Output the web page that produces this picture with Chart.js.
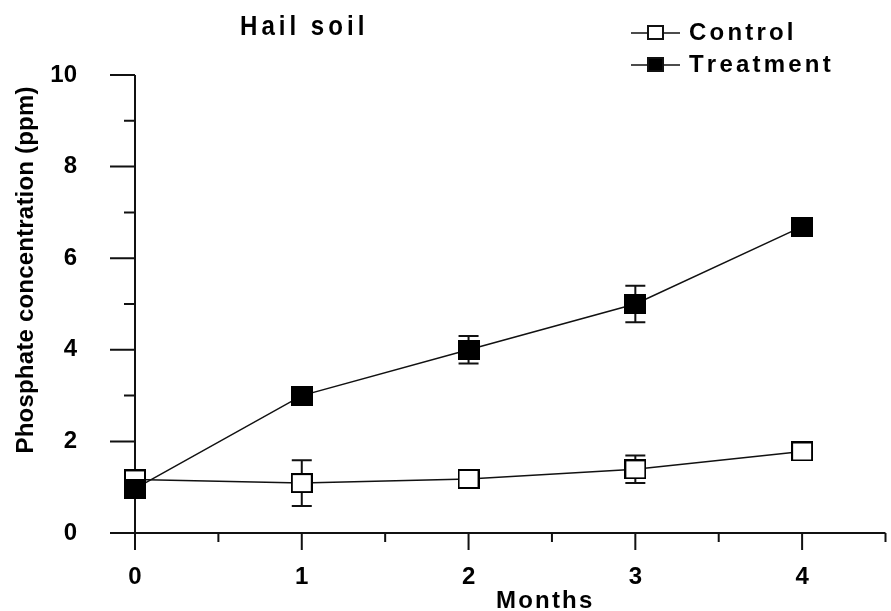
<!DOCTYPE html>
<html>
<head>
<meta charset="utf-8">
<title>Hail soil</title>
<script src="https://cdn.jsdelivr.net/npm/chart.js@4.4.1/dist/chart.umd.min.js"></script>
<style>
  html, body { margin: 0; padding: 0; background: #fff; }
  #wrap { width: 891px; height: 611px; }
</style>
</head>
<body>
<div id="wrap"><canvas id="phosChart" width="891" height="611"></canvas></div>
<script>
// ---- data ----
const months = [0, 1, 2, 3, 4];
const control = [1.17, 1.09, 1.18, 1.39, 1.78];
const controlErr = [0, 0.5, 0, 0.3, 0];
const treatment = [0.97, 3.0, 4.0, 5.0, 6.69];
const treatmentErr = [0, 0, 0.3, 0.4, 0];
const xTicks = [0, 1, 2, 3, 4];
const yTicks = [0, 2, 4, 6, 8, 10];

const FONT = '"Liberation Sans", Arial, sans-serif';

// square markers (slightly wider than tall, as in the print)
const makeBox = (fill, w, h) => {
    const c = document.createElement('canvas');
    c.width = w; c.height = h;
    const g = c.getContext('2d');
    g.fillStyle = fill;
    g.fillRect(0, 0, w, h);
    g.strokeStyle = '#000';
    g.lineWidth = 2;
    g.strokeRect(1, 1, w - 2, h - 2);
    return c;
};
const openBox = makeBox('#fff', 22, 20);
const filledBox = makeBox('#000', 22, 20);

// text with letter spacing and optional horizontal squeeze
const spacedText = (ctx, text, x, y, spacing, sx, align) => {
    const chars = [...text];
    const widths = chars.map(ch => ctx.measureText(ch).width * sx);
    const total = widths.reduce((s, w) => s + w, 0) + spacing * (chars.length - 1);
    let cx = align === 'center' ? x - total / 2 : x;
    chars.forEach((ch, i) => {
        ctx.save();
        ctx.translate(cx, y);
        ctx.scale(sx, 1);
        ctx.fillText(ch, 0, 0);
        ctx.restore();
        cx += widths[i] + spacing;
    });
};

// ─── axes, tick marks and error bars (under the markers) ───
const axesPlugin = {
    id: 'axesAndErrors',
    beforeDatasetsDraw(chart) {
        const { ctx, chartArea: a, scales: { x, y } } = chart;
        ctx.save();
        ctx.strokeStyle = '#111';
        ctx.lineWidth = 2;
        ctx.beginPath();
        ctx.moveTo(a.left, a.top);
        ctx.lineTo(a.left, a.bottom);
        ctx.moveTo(a.left, a.bottom);
        ctx.lineTo(a.right, a.bottom);
        x.ticks.forEach(t => {
            const px = x.getPixelForValue(t.value);
            const len = Number.isInteger(t.value) ? 17 : 9;
            ctx.moveTo(px, a.bottom);
            ctx.lineTo(px, a.bottom + len);
        });
        y.ticks.forEach(t => {
            const py = y.getPixelForValue(t.value);
            const len = t.value % 2 === 0 ? 25 : 11;
            ctx.moveTo(a.left, py);
            ctx.lineTo(a.left - len, py);
        });
        ctx.stroke();

        // error bars
        ctx.lineWidth = 2;
        const bars = (vals, errs) => {
            vals.forEach((v, i) => {
                if (!errs[i]) return;
                const px = x.getPixelForValue(months[i]);
                const top = y.getPixelForValue(v + errs[i]);
                const bot = y.getPixelForValue(v - errs[i]);
                ctx.beginPath();
                ctx.moveTo(px, top); ctx.lineTo(px, bot);
                ctx.moveTo(px - 10, top); ctx.lineTo(px + 10, top);
                ctx.moveTo(px - 10, bot); ctx.lineTo(px + 10, bot);
                ctx.stroke();
            });
        };
        bars(control, controlErr);
        bars(treatment, treatmentErr);
        ctx.restore();
    },
    afterDraw(chart) {
        const { ctx } = chart;
        ctx.save();
        ctx.fillStyle = '#000';
        ctx.textBaseline = 'alphabetic';

        // title
        ctx.font = `bold 28px ${FONT}`;
        spacedText(ctx, 'Hail soil', 240, 35, 4, 0.86, 'left');

        // legend
        ctx.strokeStyle = '#111';
        ctx.lineWidth = 1.5;
        [[33, '#fff', 'Control', 40], [65, '#000', 'Treatment', 72]].forEach(([ly, fill, label, base]) => {
            ctx.beginPath();
            ctx.moveTo(631, ly); ctx.lineTo(680, ly);
            ctx.stroke();
            ctx.fillStyle = fill;
            ctx.fillRect(648, ly - 7, 15, 13);
            ctx.lineWidth = 2;
            ctx.strokeRect(648, ly - 7, 15, 13);
            ctx.lineWidth = 1.5;
            ctx.fillStyle = '#000';
            ctx.font = `bold 24px ${FONT}`;
            spacedText(ctx, label, 689, base, 3.2, 1, 'left');
        });

        // axis titles
        ctx.font = `bold 24px ${FONT}`;
        spacedText(ctx, 'Months', 496, 608, 2.2, 1, 'left');

        ctx.save();
        ctx.translate(33, 270);
        ctx.rotate(-Math.PI / 2);
        spacedText(ctx, 'Phosphate concentration (ppm)', 0, 0, 0.2, 1, 'center');
        ctx.restore();

        ctx.restore();
    }
};

new Chart(document.getElementById('phosChart'), {
    type: 'line',
    data: {
        labels: months,
        datasets: [
            {
                label: 'Control',
                data: months.map((m, i) => ({ x: m, y: control[i] })),
                borderColor: '#111',
                borderWidth: 1.5,
                pointStyle: openBox,
                clip: false,
                order: 1
            },
            {
                label: 'Treatment',
                data: months.map((m, i) => ({ x: m, y: treatment[i] })),
                borderColor: '#111',
                borderWidth: 1.5,
                pointStyle: filledBox,
                clip: false,
                order: 0
            }
        ]
    },
    options: {
        responsive: false,
        animation: false,
        layout: { padding: { top: 75, right: 3, left: 0, bottom: 0 } },
        plugins: {
            legend: { display: false },
            tooltip: { enabled: false }
        },
        scales: {
            x: {
                type: 'linear',
                min: 0,
                max: 4.5,
                afterFit: s => { s.height = 78; s.paddingLeft = 0; s.paddingRight = 0; },
                grid: { display: false, drawTicks: false },
                border: { display: false },
                ticks: {
                    stepSize: 0.5,
                    padding: 30,
                    color: '#000',
                    font: { family: FONT, size: 24, weight: 'bold' },
                    maxRotation: 0,
                    autoSkip: false,
                    callback: v => (xTicks.includes(v) ? v : '')
                }
            },
            y: {
                min: 0,
                max: 10,
                afterFit: s => { s.width = 135; s.paddingTop = 0; s.paddingBottom = 0; },
                grid: { display: false, drawTicks: false },
                border: { display: false },
                ticks: {
                    stepSize: 1,
                    padding: 58,
                    color: '#000',
                    font: { family: FONT, size: 24, weight: 'bold' },
                    autoSkip: false,
                    callback: v => (yTicks.includes(v) ? v : '')
                }
            }
        }
    },
    plugins: [axesPlugin]
});
</script>
</body>
</html>
